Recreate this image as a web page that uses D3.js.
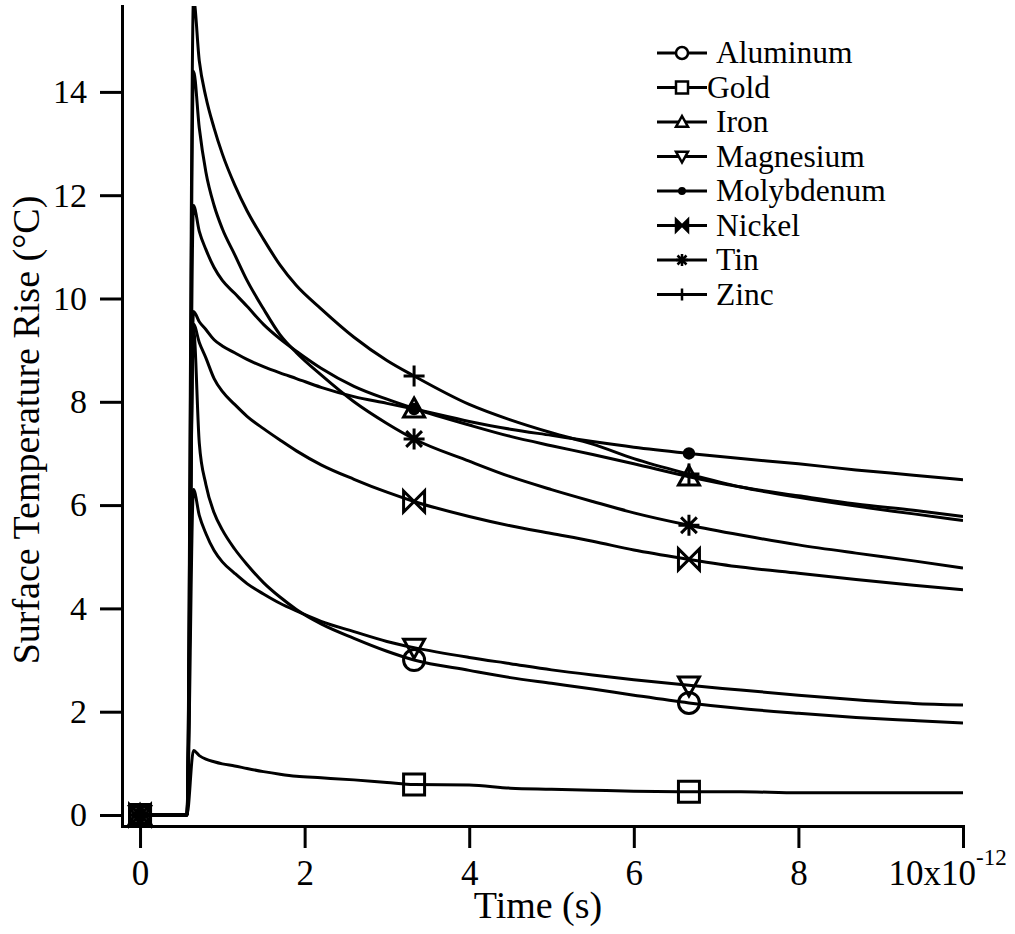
<!DOCTYPE html>
<html lang="en">
<head>
<meta charset="UTF-8">
<title>Surface Temperature Rise</title>
<script src="https://cdn.jsdelivr.net/npm/d3@7/dist/d3.min.js"></script>
<style>
  body { margin: 0; background: #fff; }
  svg text { font-family: "Liberation Serif", "Times New Roman", serif; fill: #000; }
  .curve { fill: none; stroke: #000; stroke-width: 3px; stroke-linejoin: round; }
  .axis path, .axis line { stroke: #000; stroke-width: 3px; }
</style>
</head>
<body>
<svg width="1015" height="934"></svg>
<script>
// time in units of 1e-12 s
const times = [0, 0.57, 0.65, 0.72, 0.8, 0.9, 1.0, 1.15, 1.3, 1.5, 1.7, 1.9, 2.2, 2.6, 3.0, 3.33,
               4.0, 4.5, 5.0, 5.5, 6.0, 6.67, 7.3, 8.0, 8.7, 9.4, 10.0];

const aluminum   = [0, 0, 9.4, 7.2, 6.4, 5.85, 5.52, 5.15, 4.85, 4.5, 4.22, 3.98, 3.7, 3.42, 3.17, 3.0,
                    2.8, 2.66, 2.55, 2.44, 2.32, 2.17, 2.06, 1.97, 1.89, 1.83, 1.78];
const gold       = [0, 0, 1.25, 1.15, 1.08, 1.03, 0.99, 0.95, 0.9, 0.84, 0.79, 0.75, 0.72, 0.68, 0.63, 0.59,
                    0.58, 0.52, 0.5, 0.48, 0.46, 0.45, 0.45, 0.43, 0.43, 0.43, 0.43];
const iron       = [0, 0, 11.8, 11.3, 10.95, 10.6, 10.35, 10.1, 9.85, 9.5, 9.22, 8.98, 8.65, 8.3, 8.05, 7.87,
                    7.55, 7.33, 7.15, 6.98, 6.8, 6.55, 6.35, 6.18, 6.02, 5.9, 5.78];
const magnesium  = [0, 0, 6.3, 5.8, 5.45, 5.12, 4.9, 4.68, 4.48, 4.28, 4.1, 3.95, 3.75, 3.55, 3.36, 3.24,
                    3.05, 2.93, 2.81, 2.71, 2.62, 2.51, 2.42, 2.32, 2.23, 2.16, 2.13];
const molybdenum = [0, 0, 9.75, 9.55, 9.4, 9.2, 9.08, 8.95, 8.82, 8.68, 8.56, 8.45, 8.28, 8.1, 7.97, 7.86,
                    7.62, 7.47, 7.35, 7.23, 7.12, 7.0, 6.9, 6.8, 6.68, 6.58, 6.49];
const nickel     = [0, 0, 9.5, 9.15, 8.85, 8.45, 8.2, 7.95, 7.72, 7.48, 7.26, 7.05, 6.78, 6.5, 6.25, 6.07,
                    5.78, 5.6, 5.45, 5.3, 5.13, 4.95, 4.8, 4.68, 4.56, 4.45, 4.36];
const tin        = [0, 0, 14.4, 13.3, 12.45, 11.8, 11.35, 10.85, 10.35, 9.8, 9.3, 8.95, 8.52, 8.0, 7.58, 7.28,
                    6.85, 6.55, 6.3, 6.07, 5.85, 5.61, 5.42, 5.23, 5.07, 4.92, 4.78];
const zinc       = [0, 0, 15.8, 14.6, 13.9, 13.3, 12.8, 12.2, 11.7, 11.15, 10.65, 10.25, 9.8, 9.25, 8.8, 8.5,
                    7.95, 7.65, 7.4, 7.18, 6.9, 6.6, 6.35, 6.15, 5.98, 5.83, 5.7];

const names  = ["Aluminum", "Gold", "Iron", "Magnesium", "Molybdenum", "Nickel", "Tin", "Zinc"];
const shapes = ["circle", "square", "triUp", "triDown", "dot", "bowtie", "star", "plus"];
const seriesValues = [aluminum, gold, iron, magnesium, molybdenum, nickel, tin, zinc];
const markerTimes = [0, 3.33, 6.67];

const xTicks = [0, 2, 4, 6, 8, 10];
const yTicks = [0, 2, 4, 6, 8, 10, 12, 14];

const svg = d3.select("svg");

const x = d3.scaleLinear().domain([-0.207, 10]).range([123, 963]);
const y = d3.scaleLinear().domain([-0.213, 15.663]).range([826, 6]);

svg.append("defs").append("clipPath").attr("id", "plot")
  .append("rect").attr("x", 123).attr("y", 6).attr("width", 840).attr("height", 820);

// axes
const xAxis = svg.append("g").attr("class", "axis")
    .attr("transform", "translate(0,826)")
    .call(d3.axisBottom(x).tickValues(xTicks).tickSize(22).tickSizeOuter(0).tickPadding(12)
      .tickFormat(d => d === 10 ? "10x10" : d));
xAxis.selectAll("text").attr("font-size", 35);
xAxis.selectAll(".tick").filter(d => d === 10).select("text")
    .attr("text-anchor", "start").attr("x", -75)
  .append("tspan").attr("font-size", 23).attr("dy", "-0.85em").text("-12");

const yAxis = svg.append("g").attr("class", "axis")
    .attr("transform", "translate(122,0)")
    .call(d3.axisLeft(y).tickValues(yTicks).tickSize(22).tickSizeOuter(0).tickPadding(13));
yAxis.selectAll("text").attr("font-size", 34);
svg.selectAll(".axis .domain").attr("stroke-linecap", "square");

svg.append("text").attr("x", 538).attr("y", 918).attr("text-anchor", "middle")
  .attr("font-size", 38).text("Time (s)");
svg.append("text").attr("transform", "translate(39,430) rotate(-90)")
  .attr("text-anchor", "middle").attr("font-size", 38).text("Surface Temperature Rise (°C)");

// marker path builder
function markerPath(shape, s) {
  switch (shape) {
    case "circle": return `M${-s},0A${s},${s} 0 1,0 ${s},0A${s},${s} 0 1,0 ${-s},0Z`;
    case "square": return `M${-s},${-s}H${s}V${s}H${-s}Z`;
    case "triUp": return `M0,${-s}L${s},${s * 0.8}H${-s}Z`;
    case "triDown": return `M${-s},${-s * 0.8}H${s}L0,${s}Z`;
    case "dot": { const r = s * 0.45; return `M${-r},0A${r},${r} 0 1,0 ${r},0A${r},${r} 0 1,0 ${-r},0Z`; }
    case "bowtie": return `M${-s},${-s}L${s},${s}V${-s}L${-s},${s}Z`;
    case "star": { const d = s * 0.75; return `M0,${-s}V${s}M${-s},0H${s}M${-d},${-d}L${d},${d}M${-d},${d}L${d},${-d}`; }
    case "plus": return `M${-s},0H${s}M0,${-s}V${s}`;
  }
}
const filledShape = sh => sh === "dot" || sh === "bowtie";

const line = d3.line().x(d => x(d[0])).y(d => y(d[1])).curve(d3.curveMonotoneX);

const plot = svg.append("g").attr("clip-path", "url(#plot)");
seriesValues.forEach((vals, i) => {
  const pts = times.map((t, k) => [t, vals[k]]);
  plot.append("path").attr("class", "curve").attr("d", line(pts));
});

const marks = svg.append("g");
seriesValues.forEach((vals, i) => {
  const pts = times.map((t, k) => [t, vals[k]]).filter(p => markerTimes.includes(p[0]));
  marks.selectAll(null).data(pts).join("path")
    .attr("transform", d => `translate(${x(d[0])},${y(d[1])})`)
    .attr("d", markerPath(shapes[i], 10.5))
    .attr("fill", shapes[i] === "dot" ? "#000" : "none")
    .attr("stroke", "#000").attr("stroke-width", 3);
});

// legend
const legend = svg.append("g");
names.forEach((name, i) => {
  const ly = 53 + i * 34.5;
  const g = legend.append("g").attr("transform", `translate(0,${ly})`);
  g.append("line").attr("x1", 657).attr("x2", 707).attr("stroke", "#000").attr("stroke-width", 3);
  g.append("path").attr("transform", "translate(682,0)")
    .attr("d", markerPath(shapes[i], 6))
    .attr("fill", filledShape(shapes[i]) ? "#000" : "#fff")
    .attr("stroke", "#000").attr("stroke-width", 2.5);
  g.append("text").attr("x", name === "Gold" ? 707 : 716).attr("dy", "0.33em")
    .attr("font-size", 31.5).text(name);
});
</script>
</body>
</html>
